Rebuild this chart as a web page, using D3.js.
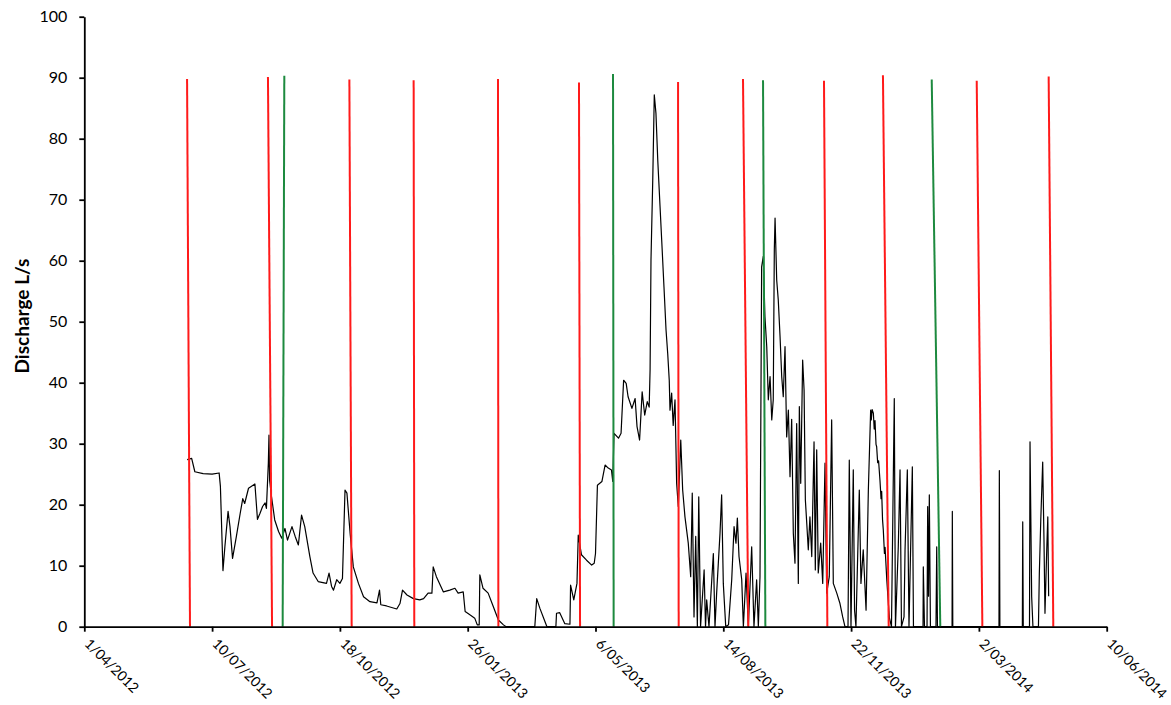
<!DOCTYPE html>
<html lang="en">

<head>
    <meta charset="UTF-8">
    <script src="https://d3js.org/d3.v7.min.js"></script>
    <title>Discharge</title>
    <style>
        body { margin: 0; background: #fff; }
        text { font-family: Lato, "Open Sans", sans-serif; fill: #000; }
    </style>
</head>

<body>
    <svg width="1171" height="705" id="mainsvg"></svg>
    <script>
        // discharge record, [time, L/s]
        const discharge = [
            ["2012-06-20 12:00", 27.4], ["2012-06-24", 27.6], ["2012-06-26 12:00", 25.4], ["2012-07-03", 25.1],
            ["2012-07-10", 25.0], ["2012-07-15 12:00", 25.2], ["2012-07-16 12:00", 23.0], ["2012-07-18 12:00", 9.2],
            ["2012-07-20", 13.1], ["2012-07-22 12:00", 18.9], ["2012-07-24", 16.4], ["2012-07-26", 11.2],
            ["2012-07-29", 14.8], ["2012-08-01", 18.6], ["2012-08-03", 21.0], ["2012-08-04 12:00", 20.2],
            ["2012-08-07 12:00", 22.7], ["2012-08-12 12:00", 23.4], ["2012-08-14 12:00", 17.6], ["2012-08-16 12:00", 18.6],
            ["2012-08-18 12:00", 19.7], ["2012-08-20 12:00", 20.3], ["2012-08-21 12:00", 19.4], ["2012-08-23", 26.8],
            ["2012-08-23 12:00", 31.4], ["2012-08-24", 24.0], ["2012-08-25 12:00", 21.3], ["2012-08-28", 17.5],
            ["2012-08-31", 15.6], ["2012-09-02 12:00", 14.5], ["2012-09-05", 16.1], ["2012-09-07", 14.2],
            ["2012-09-10 12:00", 16.4], ["2012-09-13", 14.8], ["2012-09-15 12:00", 13.4], ["2012-09-18", 18.3],
            ["2012-09-20 12:00", 16.4], ["2012-09-24 12:00", 11.5], ["2012-09-27", 8.8], ["2012-10-01", 7.4],
            ["2012-10-07 12:00", 7.1], ["2012-10-09 12:00", 8.8], ["2012-10-11 12:00", 6.6], ["2012-10-13", 6.0],
            ["2012-10-15 12:00", 7.7], ["2012-10-18", 7.1], ["2012-10-20", 7.9], ["2012-10-22", 22.4],
            ["2012-10-23 12:00", 21.9], ["2012-10-26", 15.3], ["2012-10-28 12:00", 9.8], ["2012-11-01 12:00", 7.1],
            ["2012-11-05 12:00", 4.9], ["2012-11-10 12:00", 4.1], ["2012-11-16", 3.9], ["2012-11-18", 6.0],
            ["2012-11-19", 3.6], ["2012-11-23 12:00", 3.4], ["2012-12-01 12:00", 2.9], ["2012-12-04", 3.8],
            ["2012-12-06", 6.0], ["2012-12-09 12:00", 5.2], ["2012-12-14 12:00", 4.6], ["2012-12-19 12:00", 4.4],
            ["2012-12-22 12:00", 4.6], ["2012-12-26", 5.5], ["2012-12-29", 5.5], ["2012-12-30", 9.8],
            ["2013-01-01 12:00", 8.2], ["2013-01-07", 5.7], ["2013-01-12", 6.0], ["2013-01-16", 6.3],
            ["2013-01-18 12:00", 5.5], ["2013-01-22 12:00", 5.7], ["2013-01-24", 2.5], ["2013-01-28", 1.9],
            ["2013-01-31 12:00", 1.4], ["2013-02-02 12:00", 0.3], ["2013-02-04", 0.3], ["2013-02-04 12:00", 8.5],
            ["2013-02-07", 6.3], ["2013-02-11", 5.5], ["2013-02-15", 3.3], ["2013-02-19", 1.1],
            ["2013-02-23", 0.3], ["2013-02-25", 0], ["2013-03-19 12:00", 0], ["2013-03-21", 4.6],
            ["2013-03-23 12:00", 3.0], ["2013-03-27 12:00", 0.8], ["2013-03-29", 0], ["2013-04-05", 0],
            ["2013-04-05 12:00", 2.2], ["2013-04-08", 2.3], ["2013-04-12", 0.5], ["2013-04-16", 0.4],
            ["2013-04-16 12:00", 6.8], ["2013-04-19", 4.4], ["2013-04-21 12:00", 7.1], ["2013-04-22 12:00", 15.0],
            ["2013-04-25", 11.8], ["2013-04-29", 10.9], ["2013-05-03", 10.1], ["2013-05-05", 10.4],
            ["2013-05-06", 12.0], ["2013-05-07 12:00", 23.2], ["2013-05-11", 23.8], ["2013-05-13 12:00", 26.5],
            ["2013-05-16", 26.0], ["2013-05-18 12:00", 25.7], ["2013-05-19 12:00", 23.8], ["2013-05-20 12:00", 31.7],
            ["2013-05-24", 30.9], ["2013-05-26", 31.7], ["2013-05-28", 40.4], ["2013-05-30", 39.9],
            ["2013-05-31 12:00", 37.7], ["2013-06-03 12:00", 35.8], ["2013-06-06", 37.4], ["2013-06-07 12:00", 32.8],
            ["2013-06-09 12:00", 30.6], ["2013-06-11 12:00", 38.5], ["2013-06-13 12:00", 34.7], ["2013-06-15 12:00", 36.9],
            ["2013-06-17", 36.0], ["2013-06-17 17:00", 42.1], ["2013-06-18 10:00", 60.1], ["2013-06-19 19:00", 73.2],
            ["2013-06-21", 87.2], ["2013-06-22 07:00", 84.2], ["2013-06-23 17:00", 76.5], ["2013-06-25 12:00", 68.9],
            ["2013-06-26 19:00", 63.4], ["2013-06-28 14:00", 55.7], ["2013-06-30 05:00", 48.6], ["2013-07-01 12:00", 44.8],
            ["2013-07-02 17:00", 40.4], ["2013-07-03 07:00", 35.5], ["2013-07-04 14:00", 38.3], ["2013-07-05 19:00", 33.0],
            ["2013-07-07 05:00", 37.2], ["2013-07-08 12:00", 23.5], ["2013-07-09 19:00", 19.7], ["2013-07-11 17:00", 30.6],
            ["2013-07-13 05:00", 22.4], ["2013-07-15", 18.0], ["2013-07-17 14:00", 13.7], ["2013-07-19 12:00", 8.2],
            ["2013-07-20 17:00", 21.9], ["2013-07-22 02:00", 1.6], ["2013-07-23 10:00", 14.8], ["2013-07-24 17:00", 0],
            ["2013-07-25 19:00", 21.3], ["2013-07-27 05:00", 0], ["2013-07-30", 9.3], ["2013-07-31 02:00", 0],
            ["2013-08-01", 4.4], ["2013-08-02 19:00", 0], ["2013-08-06 05:00", 12.0], ["2013-08-07 12:00", 0],
            ["2013-08-08 19:00", 5.5], ["2013-08-11 10:00", 15.3], ["2013-08-12 17:00", 21.6], ["2013-08-14", 7.1],
            ["2013-08-15 22:00", 0], ["2013-08-18 02:00", 0.3], ["2013-08-20 14:00", 7.7], ["2013-08-22 10:00", 16.4],
            ["2013-08-23 22:00", 13.7], ["2013-08-25", 17.8], ["2013-08-26 07:00", 11.5], ["2013-08-28 10:00", 7.7],
            ["2013-08-29 17:00", 0], ["2013-08-31 19:00", 8.8], ["2013-09-02 14:00", 0], ["2013-09-05 05:00", 13.1],
            ["2013-09-07", 0], ["2013-09-09 02:00", 7.7], ["2013-09-10 10:00", 0], ["2013-09-11 17:00", 8.2],
            ["2013-09-13", 59.0], ["2013-09-14 07:00", 60.7], ["2013-09-15 14:00", 50.8], ["2013-09-17", 45.9],
            ["2013-09-18 05:00", 37.2], ["2013-09-19 14:00", 41.0], ["2013-09-20 22:00", 33.9], ["2013-09-22 02:00", 37.2],
            ["2013-09-22 22:00", 61.8], ["2013-09-23 12:00", 67.0], ["2013-09-24 19:00", 56.8], ["2013-09-26", 53.6],
            ["2013-09-27 10:00", 47.5], ["2013-09-28 17:00", 41.0], ["2013-09-29 22:00", 37.7], ["2013-10-01 07:00", 45.9],
            ["2013-10-02 14:00", 31.1], ["2013-10-03 22:00", 35.5], ["2013-10-05 05:00", 24.6], ["2013-10-06 12:00", 34.0],
            ["2013-10-07 19:00", 15.3], ["2013-10-09 02:00", 10.4], ["2013-10-10 10:00", 33.3], ["2013-10-11 17:00", 7.1],
            ["2013-10-12 12:00", 36.1], ["2013-10-13 14:00", 23.5], ["2013-10-15 02:00", 43.7], ["2013-10-16 05:00", 38.8],
            ["2013-10-17 05:00", 20.8], ["2013-10-18 07:00", 17.0], ["2013-10-19 12:00", 12.6], ["2013-10-20 19:00", 18.0],
            ["2013-10-22 05:00", 11.5], ["2013-10-24", 30.3], ["2013-10-25", 9.3], ["2013-10-26 02:00", 29.0],
            ["2013-10-27 07:00", 8.8], ["2013-10-29 05:00", 13.7], ["2013-10-30 19:00", 7.1], ["2013-11-01 14:00", 26.8],
            ["2013-11-02 22:00", 5.5], ["2013-11-04 22:00", 8.2], ["2013-11-06 19:00", 33.9], ["2013-11-08 02:00", 7.1],
            ["2013-11-10 19:00", 5.5], ["2013-11-13 07:00", 3.8], ["2013-11-15 10:00", 1.6], ["2013-11-17 05:00", 0],
            ["2013-11-19 14:00", 0], ["2013-11-20 14:00", 27.3], ["2013-11-21 22:00", 0], ["2013-11-23 17:00", 25.7],
            ["2013-11-24 17:00", 2.7], ["2013-11-25 19:00", 0], ["2013-11-28 10:00", 22.4], ["2013-11-29 17:00", 7.1],
            ["2013-12-01 12:00", 12.6], ["2013-12-03 17:00", 2.7], ["2013-12-05 12:00", 22.4], ["2013-12-07 07:00", 35.5],
            ["2013-12-07 19:00", 33.9], ["2013-12-08 10:00", 35.6], ["2013-12-09 10:00", 35.0], ["2013-12-10 02:00", 32.4],
            ["2013-12-10 17:00", 33.8], ["2013-12-11 12:00", 29.9], ["2013-12-12", 29.5], ["2013-12-12 19:00", 26.9],
            ["2013-12-13 12:00", 27.2], ["2013-12-14 14:00", 24.0], ["2013-12-15 10:00", 21.0], ["2013-12-15 22:00", 22.2],
            ["2013-12-16 14:00", 17.6], ["2013-12-17 05:00", 15.8], ["2013-12-18 02:00", 12.0], ["2013-12-18 14:00", 13.0],
            ["2013-12-19 22:00", 7.7], ["2013-12-20 19:00", 5.0], ["2013-12-21 22:00", 1.5], ["2013-12-23 14:00", 0],
            ["2013-12-25 19:00", 37.4], ["2013-12-26 17:00", 0], ["2013-12-28 22:00", 13.1], ["2013-12-30 07:00", 25.7],
            ["2013-12-31 10:00", 0], ["2014-01-02 10:00", 1.6], ["2014-01-03 05:00", 12.6], ["2014-01-05", 25.7],
            ["2014-01-06 07:00", 0], ["2014-01-08 22:00", 26.2], ["2014-01-09 19:00", 0], ["2014-01-17 07:00", 0],
            ["2014-01-17 12:00", 9.8], ["2014-01-18 10:00", 0], ["2014-01-20 10:00", 0], ["2014-01-20 22:00", 19.7],
            ["2014-01-21 14:00", 5.0], ["2014-01-22 05:00", 21.6], ["2014-01-23 02:00", 0], ["2014-01-27 10:00", 0],
            ["2014-01-28", 13.1], ["2014-01-28 14:00", 0], ["2014-02-09", 0], ["2014-02-09 05:00", 18.9],
            ["2014-02-09 14:00", 0], ["2014-03-17 17:00", 0], ["2014-03-18", 25.6], ["2014-03-18 10:00", 0],
            ["2014-04-05", 0], ["2014-04-05 07:00", 17.2], ["2014-04-05 17:00", 0], ["2014-04-10 14:00", 0],
            ["2014-04-11", 30.3], ["2014-04-12 07:00", 4.9], ["2014-04-13 07:00", 0], ["2014-04-17 14:00", 0],
            ["2014-04-18 07:00", 8.8], ["2014-04-19 10:00", 17.5], ["2014-04-20 22:00", 27.0], ["2014-04-21 22:00", 14.3],
            ["2014-04-22 17:00", 2.2], ["2014-04-24 02:00", 12.6], ["2014-04-24 22:00", 18.0], ["2014-04-25 14:00", 5.0]
        ];

        // sampling runs: [top time, top value, bottom time] - drawn down to 0
        const redEvents = [
            ["2012-06-20 10:00", 89.8, "2012-06-22 17:00"],
            ["2012-08-22 17:00", 90.1, "2012-08-25 22:00"],
            ["2012-10-25 10:00", 89.7, "2012-10-27 05:00"],
            ["2012-12-14 17:00", 89.6, "2012-12-15 05:00"],
            ["2013-02-18 17:00", 89.8, "2013-02-19"],
            ["2013-04-23 02:00", 89.2, "2013-04-23 22:00"],
            ["2013-07-09 14:00", 89.3, "2013-07-10 02:00"],
            ["2013-08-29 10:00", 89.8, "2013-09-02 14:00"],
            ["2013-10-31 19:00", 89.5, "2013-11-03 10:00"],
            ["2013-12-16 22:00", 90.4, "2013-12-21 10:00"],
            ["2014-02-28 07:00", 89.5, "2014-03-04 17:00"],
            ["2014-04-25 14:00", 90.2, "2014-04-29 05:00"]
        ];
        const greenEvents = [
            ["2012-09-04 12:00", 90.3, "2012-09-03 05:00"],
            ["2013-05-19 17:00", 90.6, "2013-05-20 05:00"],
            ["2013-09-14 02:00", 89.6, "2013-09-15 22:00"],
            ["2014-01-24 02:00", 89.7, "2014-01-30 19:00"]
        ];

        const xTickDates = ["2012-04-01", "2012-07-10", "2012-10-18", "2013-01-26", "2013-05-06",
            "2013-08-14", "2013-11-22", "2014-03-02", "2014-06-10"];
        const yTicks = [0, 10, 20, 30, 40, 50, 60, 70, 80, 90, 100];

        const parseTime = s => d3.timeParse(s.length > 10 ? "%Y-%m-%d %H:%M" : "%Y-%m-%d")(s);

        const svg = d3.select('#mainsvg');
        const width = +svg.attr('width');
        const height = +svg.attr('height');
        const margin = { top: 16.7, right: 64.3, bottom: 78.3, left: 84.3 };
        const innerWidth = width - margin.left - margin.right;
        const innerHeight = height - margin.top - margin.bottom;

        const xTicks = xTickDates.map(parseTime);

        const xScale = d3.scaleTime()
            .domain([xTicks[0], xTicks[xTicks.length - 1]])
            .range([0, innerWidth]);

        const yScale = d3.scaleLinear()
            .domain([0, 100])
            .range([innerHeight, 0]);

        const g = svg.append('g')
            .attr('transform', `translate(${margin.left}, ${margin.top})`);

        // discharge trace
        const line = d3.line()
            .x(d => xScale(parseTime(d[0])))
            .y(d => yScale(d[1]));

        g.append('path')
            .datum(discharge)
            .attr('fill', 'none')
            .attr('stroke', '#000')
            .attr('stroke-width', 1.2)
            .attr('stroke-linejoin', 'round')
            .attr('d', line);

        // event lines
        const drawEvents = (events, colour) => {
            g.selectAll(null).data(events).enter().append('path')
                .attr('fill', 'none')
                .attr('stroke', colour)
                .attr('stroke-width', 2)
                .attr('d', d => line([[d[0], d[1]], [d[2], 0]]));
        };
        drawEvents(redEvents, '#ff1a1a');
        drawEvents(greenEvents, '#1d8a3f');

        // axes
        const yAxis = d3.axisLeft(yScale)
            .tickValues(yTicks)
            .tickSize(5)
            .tickSizeOuter(0)
            .tickPadding(12);
        const yg = g.append('g').call(yAxis);

        const xAxis = d3.axisBottom(xScale)
            .tickValues(xTicks)
            .tickFormat(d3.timeFormat('%-d/%m/%Y'))
            .tickSize(5)
            .tickSizeOuter(0);
        const xg = g.append('g').call(xAxis)
            .attr('transform', `translate(0, ${innerHeight})`);

        svg.selectAll('.domain, .tick line')
            .attr('stroke', '#000')
            .attr('stroke-width', 1.8);
        svg.selectAll('.tick text')
            .attr('font-size', '16px')
            .attr('font-family', 'Lato, sans-serif')
            .attr('fill', '#000');

        xg.selectAll('.tick text')
            .attr('font-size', '14px')
            .attr('text-anchor', 'start')
            .attr('dy', '0')
            .attr('y', 0)
            .attr('transform', 'translate(-1, 18) rotate(45)');

        g.append('text').text('Discharge L/s')
            .attr('font-size', '19px')
            .attr('font-weight', 'bold')
            .attr('text-anchor', 'middle')
            .attr('transform', `translate(${22 - margin.left}, ${316 - margin.top}) rotate(-90)`)
            .attr('dy', '0.35em');
    </script>
</body>

</html>
